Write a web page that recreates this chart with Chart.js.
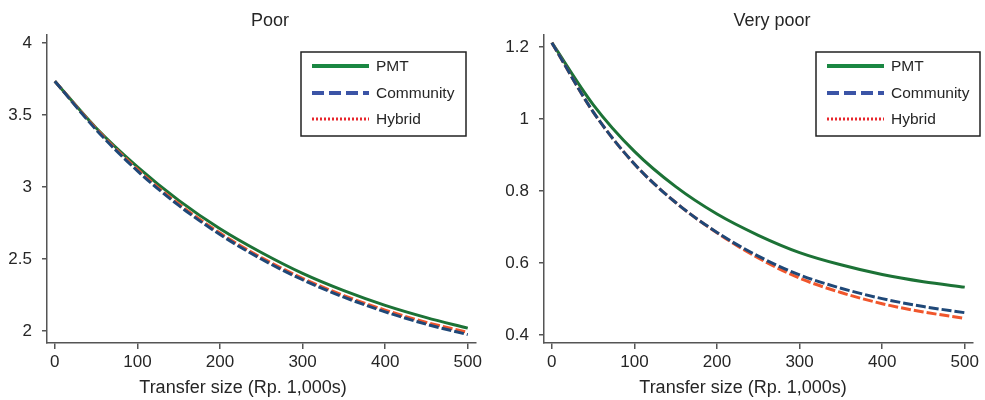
<!DOCTYPE html>
<html>
<head>
<meta charset="utf-8">
<script src="https://cdn.jsdelivr.net/npm/chart.js@4.4.1/dist/chart.umd.min.js"></script>
<style>
  html, body { margin: 0; padding: 0; background: #fff; }
  #wrap { position: relative; width: 985px; height: 400px; }
  canvas { position: absolute; top: 0; }
</style>
</head>
<body>
<div id="wrap">
  <canvas id="poorChart" width="490" height="400" style="left:0"></canvas>
  <canvas id="veryPoorChart" width="490" height="400" style="left:495px"></canvas>
</div>
<script>
// Transfer sizes (Rp. 1,000s)
const xValues = [0, 50, 100, 150, 200, 250, 300, 350, 400, 450, 500];

// Poor
const poorPMT       = [3.735, 3.41, 3.14, 2.907, 2.71, 2.545, 2.40, 2.28, 2.178, 2.093, 2.02];
const poorCommunity = [3.735, 3.398, 3.112, 2.872, 2.67, 2.50, 2.356, 2.235, 2.133, 2.047, 1.975];
const poorHybrid    = [3.735, 3.405, 3.122, 2.882, 2.68, 2.51, 2.366, 2.246, 2.145, 2.06, 1.99];

// Very poor
const veryPoorPMT       = [1.212, 1.04, 0.91, 0.812, 0.736, 0.677, 0.629, 0.595, 0.568, 0.548, 0.533];
const veryPoorCommunity = [1.212, 1.02, 0.875, 0.768, 0.685, 0.619, 0.567, 0.530, 0.501, 0.479, 0.462];
const veryPoorHybrid    = [1.212, 1.02, 0.875, 0.768, 0.684, 0.614, 0.558, 0.518, 0.487, 0.464, 0.446];

// Tick labels
const xTicks = [0, 100, 200, 300, 400, 500];
const yTicksPoor = [2, 2.5, 3, 3.5, 4];
const yTicksVeryPoor = [0.4, 0.6, 0.8, 1, 1.2];

const FONT = '"Liberation Sans", Arial, Helvetica, sans-serif';
const TEXT = '#262626';
const AXIS = '#555';

function points(ys) {
  return xValues.map((x, i) => ({ x: x, y: ys[i] }));
}

// Panel title, x-axis title and boxed legend drawn onto the canvas
const panelDecor = {
  id: 'panelDecor',
  afterDraw(chart, args, opts) {
    const ctx = chart.ctx;
    ctx.save();
    ctx.fillStyle = TEXT;
    ctx.textAlign = 'center';
    ctx.textBaseline = 'middle';
    ctx.font = '18px ' + FONT;
    ctx.fillText(opts.title, opts.titleX, 21);
    ctx.fillText('Transfer size (Rp. 1,000s)', opts.axisX, 388);

    const b = opts.box;
    ctx.strokeStyle = '#222';
    ctx.lineWidth = 1.5;
    ctx.setLineDash([]);
    ctx.strokeRect(b.x, b.y, b.w, b.h);

    const rows = [14, 41, 67];
    ctx.textAlign = 'left';
    ctx.font = '15.5px ' + FONT;
    chart.data.datasets.forEach((ds, i) => {
      const y = b.y + rows[i];
      ctx.beginPath();
      ctx.strokeStyle = ds.legendColor;
      ctx.lineWidth = ds.legendWidth;
      ctx.setLineDash(ds.legendDash);
      ctx.moveTo(b.x + 11, y);
      ctx.lineTo(b.x + 68, y);
      ctx.stroke();
      ctx.fillStyle = TEXT;
      ctx.fillText(ds.label, b.x + 75, y + 1);
    });
    ctx.restore();
  }
};

function renderPanel(id, pmt, community, hybrid, yMin, yMax, yTicks, yWidth, padRight, decor) {
  new Chart(document.getElementById(id), {
    type: 'line',
    data: {
      datasets: [
        {
          label: 'PMT', data: points(pmt), order: 2,
          borderColor: '#1c7236', borderWidth: 3, borderDash: [],
          legendColor: '#1a8742', legendWidth: 4, legendDash: []
        },
        {
          label: 'Community', data: points(community), order: 0,
          borderColor: '#1f4878', borderWidth: 3, borderDash: [10, 3],
          legendColor: '#3b54a6', legendWidth: 4, legendDash: [12, 5]
        },
        {
          label: 'Hybrid', data: points(hybrid), order: 1,
          borderColor: '#f0562c', borderWidth: 3, borderDash: [10, 3],
          legendColor: '#e8262c', legendWidth: 3, legendDash: [2, 2]
        }
      ]
    },
    options: {
      responsive: false,
      animation: false,
      layout: { padding: { top: 35, right: padRight, left: 0, bottom: 0 } },
      elements: {
        point: { radius: 0 },
        line: { tension: 0.4, cubicInterpolationMode: 'monotone', fill: false }
      },
      scales: {
        x: {
          type: 'linear',
          min: -9.5,
          max: 510,
          afterBuildTicks: s => { s.ticks = xTicks.map(v => ({ value: v })); },
          afterFit: s => { s.height = 57; },
          grid: { drawOnChartArea: false, drawTicks: true, tickLength: 6, color: AXIS, lineWidth: 1.5 },
          border: { color: AXIS, width: 1.5 },
          ticks: { color: TEXT, padding: 3, font: { family: FONT, size: 17 } }
        },
        y: {
          type: 'linear',
          min: yMin,
          max: yMax,
          afterBuildTicks: s => { s.ticks = yTicks.map(v => ({ value: v })); },
          afterFit: s => { s.width = yWidth; },
          grid: { drawOnChartArea: false, drawTicks: true, tickLength: 5, color: AXIS, lineWidth: 1.5 },
          border: { color: AXIS, width: 1.5 },
          ticks: {
            color: TEXT, padding: 10, font: { family: FONT, size: 17 },
            callback: v => String(+v.toFixed(2))
          }
        }
      },
      plugins: {
        legend: { display: false },
        tooltip: { enabled: false },
        panelDecor: decor
      }
    },
    plugins: [panelDecor]
  });
}

renderPanel('poorChart', poorPMT, poorCommunity, poorHybrid,
  1.9167, 4.0556, yTicksPoor, 47, 14,
  { title: 'Poor', titleX: 270, axisX: 243, box: { x: 301, y: 52, w: 165, h: 84 } });

renderPanel('veryPoorChart', veryPoorPMT, veryPoorCommunity, veryPoorHybrid,
  0.3778, 1.2333, yTicksVeryPoor, 49, 12,
  { title: 'Very poor', titleX: 277, axisX: 248, box: { x: 321, y: 52, w: 164, h: 84 } });
</script>
</body>
</html>
